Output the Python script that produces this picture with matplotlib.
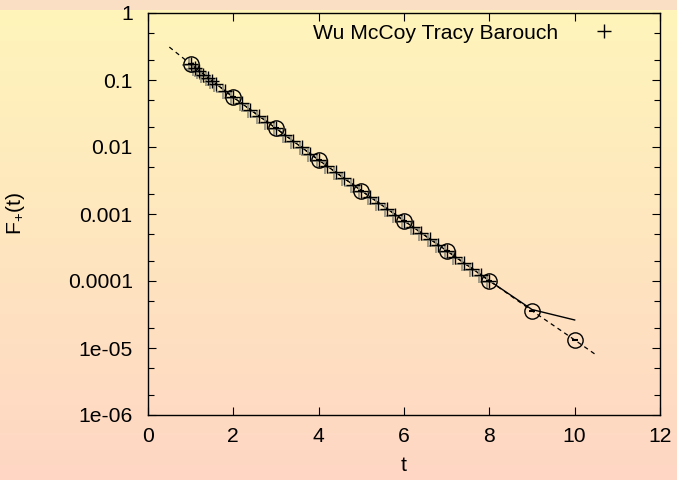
import numpy as np
import matplotlib
matplotlib.use("Agg")
import matplotlib.pyplot as plt
from matplotlib.ticker import LogLocator, NullFormatter, FixedLocator, FixedFormatter
import matplotlib.transforms as mtransforms

plt.rcParams['font.family'] = ['Liberation Sans', 'DejaVu Sans']
plt.rcParams['mathtext.default'] = 'regular'

# ---------------- data ----------------
# Wu McCoy Tracy Barouch (crosses)
wmtb_t = [1.0, 1.1, 1.2, 1.3, 1.4, 1.5, 1.6, 1.8, 2.0, 2.2, 2.4, 2.6, 2.8, 3.0,
          3.2, 3.4, 3.6, 3.8, 4.0, 4.2, 4.4, 4.6, 4.8, 5.0, 5.2, 5.4, 5.6, 5.8,
          6.0, 6.2, 6.4, 6.6, 6.8, 7.0, 7.2, 7.4, 7.6, 7.8, 8.0]
wmtb_f = [0.1734, 0.1531, 0.1358, 0.1208, 0.1076, 0.0962, 0.0859, 0.0689, 0.0552,
          0.0446, 0.0360, 0.0291, 0.0236, 0.0190, 0.0153, 0.0123, 0.00989, 0.00796,
          0.00640, 0.00518, 0.00420, 0.00340, 0.00275, 0.00223, 0.00181, 0.00148,
          0.00120, 0.000977, 0.000794, 0.000646, 0.000526, 0.000428, 0.000348,
          0.000283, 0.000231, 0.000187, 0.000153, 0.000124, 0.000101]

# circles
circ_t = [1, 2, 3, 4, 5, 6, 7, 8, 9, 10]
circ_f = [0.173, 0.0552, 0.0190, 0.0064, 0.00223, 0.000794, 0.000283, 0.000101,
          3.6e-5, 1.32e-5]

# solid line
solid_t = [1, 2, 3, 4, 5, 6, 7, 8, 9, 10]
solid_f = [0.173, 0.0552, 0.0190, 0.0064, 0.00223, 0.000794, 0.000283, 0.000101,
           3.75e-5, 2.62e-5]

# dashed line
dash_t = [0.5, 1, 2, 3, 4, 5, 6, 7, 8, 9, 10, 10.5]
dash_f = [0.31, 0.173, 0.0552, 0.0190, 0.0064, 0.00223, 0.000794, 0.000283,
          0.000101, 3.6e-5, 1.32e-5, 7.9e-6]

xticks = [0, 2, 4, 6, 8, 10, 12]
yticks = [1e-6, 1e-5, 1e-4, 1e-3, 1e-2, 1e-1, 1]
ytick_labels = ['1e-06', '1e-05', '0.0001', '0.001', '0.01', '0.1', '1']

# ---------------- figure ----------------
W, H = 677, 480
fig = plt.figure(figsize=(W / 100, H / 100), dpi=100)
fig.patch.set_alpha(0)

# background gradient
top_band = np.array([251, 223, 197]) / 255.0
c_top = np.array([255, 245, 186]) / 255.0
c_bot = np.array([254, 214, 196]) / 255.0
rows = []
for yy in range(H):
    if yy < 10:
        rows.append(top_band)
    else:
        f = (yy - 10) / (H - 10)
        rows.append(c_top * (1 - f) + c_bot * f)
grad = np.array(rows)[:, None, :]
bg = fig.add_axes([0, 0, 1, 1], zorder=-10)
bg.imshow(grad, aspect='auto', extent=[0, 1, 0, 1], interpolation='nearest')
bg.set_axis_off()

left, right, top, bottom = 148, 660, 13, 415
ax = fig.add_axes([left / W, (H - bottom) / H, (right - left) / W, (bottom - top) / H])
ax.set_facecolor('none')

ax.set_yscale('log')
ax.set_xlim(0, 12)
ax.set_ylim(1e-6, 1)

FS = 15.2

# dashed line
ax.plot(dash_t, dash_f, color='black', lw=0.9, ls=(0, (3.5, 3)), zorder=2)
# solid line
ax.plot(solid_t, solid_f, color='black', lw=1.0, zorder=3)
# crosses with grey shadow
shadow = mtransforms.offset_copy(ax.transData, fig=fig, x=-2.0, y=-1.0, units='dots')
ax.plot(wmtb_t, wmtb_f, ls='none', marker='+', ms=10.5, mew=1.3, color='#9a9684',
        transform=shadow, zorder=3)
ax.plot(wmtb_t, wmtb_f, ls='none', marker='+', ms=10.5, mew=1.0, color='black',
        zorder=4, label='Wu McCoy Tracy Barouch')
# circles
ax.plot(circ_t, circ_f, ls='none', marker='o', ms=11, mew=1.0, mfc='none',
        mec='black', zorder=5)
ax.plot(circ_t, circ_f, ls='none', marker='_', ms=4, mew=1.5, color='black', zorder=5)

# ticks
ax.xaxis.set_major_locator(FixedLocator(xticks))
ax.set_xticklabels([str(v) for v in xticks])
ax.yaxis.set_major_locator(FixedLocator(yticks))
ax.yaxis.set_major_formatter(FixedFormatter(ytick_labels))
ax.yaxis.set_minor_locator(LogLocator(base=10, subs=(2.0, 5.0), numticks=20))
ax.yaxis.set_minor_formatter(NullFormatter())
ax.tick_params(which='both', direction='in', top=True, right=True, labelsize=FS,
               colors='black', width=0.8)
ax.tick_params(which='major', length=6)
ax.tick_params(which='minor', length=4)
ax.tick_params(axis='y', which='major', pad=11)
ax.tick_params(axis='x', which='major', pad=9)
for sp in ax.spines.values():
    sp.set_linewidth(1.0)

ax.set_xlabel('t', fontsize=FS, labelpad=7)
ax.set_ylabel('$F_{+}$(t)', fontsize=FS, labelpad=29)

leg = ax.legend(loc='upper right', markerfirst=False, frameon=False, fontsize=FS,
                handlelength=2.0, handletextpad=1.2, borderaxespad=0.3,
                borderpad=0.2, bbox_to_anchor=(0.953, 1.0))

fig.savefig('out.png', dpi=100)
